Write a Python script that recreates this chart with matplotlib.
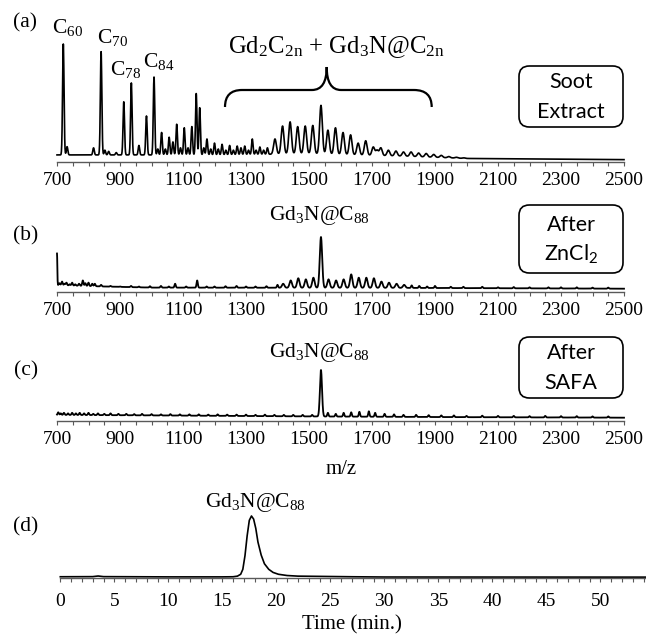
import numpy as np
import matplotlib
matplotlib.use('Agg')
import matplotlib.pyplot as plt
from matplotlib.path import Path
from matplotlib.patches import PathPatch, FancyBboxPatch

plt.rcParams['font.family'] = ['Liberation Serif', 'DejaVu Serif']
plt.rcParams['mathtext.default'] = 'regular'

# ---- data ----
# (a) soot extract, relative intensity (C60 = 100)
a_base_mz = [700, 1200, 1500, 1800, 2000, 2500]
a_base_h = [6, 6, 7, 5, 3, 2]
a_mz = [720, 732, 816, 840, 852, 864, 888, 912, 936, 960, 984, 1008, 1020, 1032, 1044,
        1056, 1068, 1080, 1092, 1104, 1116, 1128, 1142, 1153, 1166, 1176, 1188, 1200,
        1212, 1224, 1236, 1248, 1260, 1272, 1284, 1296, 1308, 1320, 1332, 1344, 1356,
        1368, 1392, 1416, 1440, 1464, 1488, 1512, 1538, 1560, 1584, 1608, 1632, 1656,
        1680, 1704, 1716, 1728, 1752, 1776, 1800, 1824, 1848, 1872, 1896, 1920, 1944,
        1968, 1992]
a_h = [100, 13, 12, 93.5, 10, 9, 8, 51, 67, 14, 39, 72, 11, 25, 11,
       21, 17, 32, 12, 29, 12, 30, 58, 46, 12, 19.5, 11, 16,
       11, 15, 10, 14, 10, 13.5, 12, 13.5, 10, 19.5, 10, 12.7, 10,
       12, 19.5, 30.5, 34, 30, 30.5, 31, 48, 27, 29, 25, 23, 16,
       18, 12.7, 10, 12, 10, 9.3, 8.5, 8.5, 7.6, 7.2, 6.4, 5.6, 4.6,
       4, 3.5]

# (b) after ZnCl2 (Gd3N@C88 = 100)
b_base_mz = [700, 850, 1000, 1800, 2500]
b_base_h = [12.6, 10, 8, 7.5, 6]
b_mz = [700, 708, 716, 724, 730, 740, 748, 758, 770, 782, 790, 800, 812, 820, 840, 870,
        900, 935, 960, 995, 1030, 1055, 1075, 1110, 1145, 1175, 1200, 1235, 1270, 1300,
        1330, 1365, 1400, 1418, 1442, 1466, 1490, 1514, 1538, 1562, 1586, 1610, 1634,
        1658, 1682, 1706, 1730, 1754, 1778, 1802, 1826, 1850, 1875, 1900, 1950, 1990,
        2050, 2100, 2150, 2200, 2260, 2300, 2350, 2400, 2450]
b_h = [70, 16, 19, 15, 17, 14, 17, 14, 15, 21, 16, 17, 15, 15, 13, 11,
       10, 11, 10, 10.5, 11, 10, 15, 10, 21, 10, 10, 10.5, 11, 10,
       10, 10.5, 13, 15, 21, 25, 23, 26, 100, 23, 21, 23, 32,
       26, 26, 25, 19, 17, 15, 13, 12, 11, 10, 11, 9.5, 9.5,
       9.5, 8.5, 9, 8.5, 8.5, 8.5, 8.5, 8, 8]

# (c) after SAFA (Gd3N@C88 = 100)
c_base_mz = [700, 1000, 1500, 2000, 2500]
c_base_h = [12, 11, 9, 7.5, 6.5]
c_mz = [704, 712, 722, 735, 748, 760, 772, 786, 800, 815, 830, 850, 870, 895, 920,
        945, 970, 1000, 1030, 1060, 1090, 1120, 1150, 1180, 1210, 1240, 1270, 1300,
        1330, 1360, 1390, 1420, 1450, 1480, 1510, 1538, 1560, 1585, 1610, 1634, 1660,
        1690, 1710, 1740, 1770, 1800, 1840, 1880, 1920, 1960, 2000, 2050, 2100, 2150,
        2200, 2250, 2300, 2350, 2400, 2450]
c_h = [17, 15, 16, 15, 16, 15, 16, 15, 16, 14, 15, 14, 15, 14, 14,
       13.5, 14, 13.5, 13, 13.5, 13, 13, 13, 12.5, 13, 12.5, 12.5, 12.5,
       12, 12.5, 12, 12, 12, 12, 12, 100, 16, 14, 16, 17, 18,
       19, 16, 14, 13, 12, 12, 11.5, 11, 11, 10, 10.5, 10, 10,
       9.5, 10, 9.5, 9.5, 9, 9]

# (d) HPLC chromatogram (peak = 100)
d_t = [0, 3.0, 3.5, 4.0, 10, 15, 16.0, 16.4, 16.7, 16.9, 17.1, 17.3, 17.5, 17.7, 17.9,
       18.1, 18.3, 18.6, 18.9, 19.3, 19.7, 20.2, 21.0, 22.0, 25.0, 27.0, 30.0, 54.3]
d_h = [2, 2.2, 3.2, 2.2, 1.8, 1.8, 2, 3, 6, 14, 36, 68, 93, 100, 95,
       80, 58, 37, 23, 14, 9, 6, 4, 3, 2.4, 2, 1.6, 1.4]

mz = np.arange(700, 2500.5, 0.5)


def spectrum(base_mz, base_h, pk_mz, pk_h, width):
    y = np.interp(mz, base_mz, base_h)
    b = np.interp(pk_mz, base_mz, base_h)
    for m, h, bb, w in zip(pk_mz, pk_h, b, width):
        y = y + (h - bb) * np.exp(-0.5 * ((mz - m) / w) ** 2)
    return y


W, H = 646, 634
fig = plt.figure(figsize=(W / 100, H / 100), dpi=100)


def fx(x):
    return x / W


def fy(y):
    return 1 - y / H


AX_COL = '#595959'


def style_axis(ax, major, minor, pad):
    for s in ['top', 'left', 'right']:
        ax.spines[s].set_visible(False)
    ax.spines['bottom'].set_color(AX_COL)
    ax.spines['bottom'].set_linewidth(1.0)
    ax.set_yticks([])
    ax.set_xticks(major)
    ax.set_xticks(minor, minor=True)
    ax.tick_params(axis='x', which='both', direction='out', length=3, width=0.8,
                   color=AX_COL, labelsize=14, pad=pad)
    ax.patch.set_alpha(0)


def ms_axes(axis_y, height):
    ax = fig.add_axes([fx(57), fy(axis_y), fx(624) - fx(57), height / H])
    ax.set_xlim(700, 2500)
    ax.set_ylim(0, 100)
    style_axis(ax, np.arange(700, 2501, 200), np.arange(700, 2501, 50), 4)
    return ax


# (a)
ax = ms_axes(162, 118)
wa = [4.3 if m > 1380 else 2.3 for m in a_mz]
ax.plot(mz, spectrum(a_base_mz, a_base_h, a_mz, a_h, wa), color='black', lw=1.2,
        clip_on=False)

# (b)
ax = ms_axes(292, 55)
wb = [1.0 if m == 700 else (3.8 if m > 1400 and m < 1820 else 2.0) for m in b_mz]
ax.plot(mz, spectrum(b_base_mz, b_base_h, b_mz, b_h, wb), color='black', lw=1.3,
        clip_on=False)

# (c)
ax = ms_axes(421, 51)
wc = [3.3 if m == 1538 else 2.0 for m in c_mz]
ax.plot(mz, spectrum(c_base_mz, c_base_h, c_mz, c_h, wc), color='black', lw=1.3,
        clip_on=False)

# (d)
ax = fig.add_axes([fx(60.3), fy(578), fx(646) - fx(60.3), 62 / H])
ax.set_xlim(0, 54.23)
ax.set_ylim(0, 100)
style_axis(ax, np.arange(0, 51, 5), np.arange(0, 55, 1), 8)
ax.plot(d_t, d_h, color='black', lw=1.2, clip_on=False)

# ---- text ----
serif = dict(fontsize=15.5, color='black')
fig.text(fx(25), fy(23), '(a)', ha='center', va='center', **serif)
fig.text(fx(26), fy(236), '(b)', ha='center', va='center', **serif)
fig.text(fx(26), fy(371), '(c)', ha='center', va='center', **serif)
fig.text(fx(26), fy(527), '(d)', ha='center', va='center', **serif)

fig.text(fx(52), fy(33.5), 'C$_{60}$', ha='left', va='baseline', **serif)
fig.text(fx(96.7), fy(43), 'C$_{70}$', ha='left', va='baseline', **serif)
fig.text(fx(110), fy(75), 'C$_{78}$', ha='left', va='baseline', **serif)
fig.text(fx(143), fy(67), 'C$_{84}$', ha='left', va='baseline', **serif)
fig.text(fx(228), fy(53), 'Gd$_2$C$_{2n}$ + Gd$_3$N@C$_{2n}$', ha='left',
         va='baseline', fontsize=17.8)
fig.text(fx(269), fy(220), 'Gd$_3$N@C$_{88}$', ha='left', va='baseline', **serif)
fig.text(fx(269), fy(356.7), 'Gd$_3$N@C$_{88}$', ha='left', va='baseline', **serif)
fig.text(fx(205), fy(506.7), 'Gd$_3$N@C$_{88}$', ha='left', va='baseline', **serif)

fig.text(fx(341), fy(470), 'm/z', ha='center', va='center', fontsize=15)
fig.text(fx(352), fy(625), 'Time (min.)', ha='center', va='center', fontsize=15)

# brace over the metallofullerene region
bx = [(225, 107), (225, 90), (242, 90), (312, 90), (326.7, 90), (326.7, 67),
      (326.7, 90), (341, 90), (414, 90), (431.7, 90), (431.7, 107)]
codes = [Path.MOVETO, Path.CURVE3, Path.CURVE3, Path.LINETO, Path.CURVE3, Path.CURVE3,
         Path.CURVE3, Path.CURVE3, Path.LINETO, Path.CURVE3, Path.CURVE3]
brace = Path([(fx(x), fy(y)) for x, y in bx], codes)
fig.patches.append(PathPatch(brace, transform=fig.transFigure, fill=False,
                             lw=1.6, color='black'))

# rounded boxes
sans = dict(fontsize=15.5, family=['Lato', 'DejaVu Sans'], ha='center', va='center')
boxes = [(66, 127, ['Soot', 'Extract'], [81.7, 111.7]),
         (205, 273, ['After', 'ZnCl$_2$'], [225, 254]),
         (337, 398, ['After', 'SAFA'], [353, 383])]
for top, bot, lines, ys in boxes:
    x0, x1 = 519, 623
    p = FancyBboxPatch((fx(x0), fy(bot)), fx(x1) - fx(x0), fy(top) - fy(bot),
                       boxstyle='round,pad=0,rounding_size=0.016',
                       transform=fig.transFigure, fill=False, lw=1.2,
                       edgecolor='black', mutation_aspect=W / H)
    fig.patches.append(p)
    for t, yy in zip(lines, ys):
        fig.text(fx(571), fy(yy), t, **sans)

fig.savefig('out.png', dpi=100)
